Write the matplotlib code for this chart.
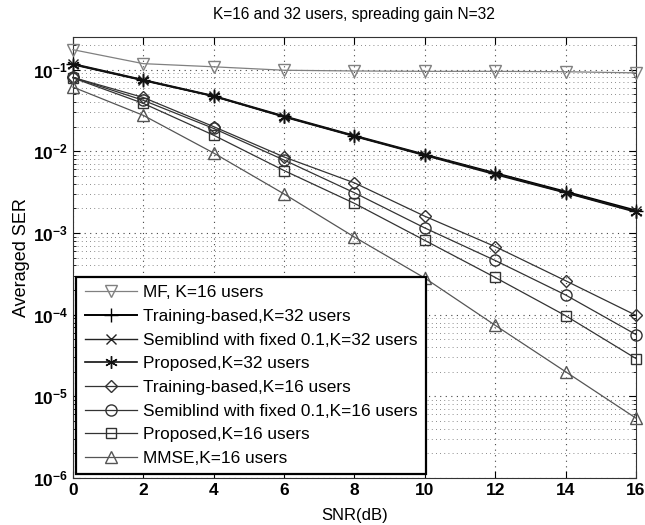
import matplotlib
matplotlib.use("Agg")
import matplotlib.pyplot as plt
from matplotlib.ticker import LogLocator, FixedLocator, NullFormatter

snr = [0, 2, 4, 6, 8, 10, 12, 14, 16]

mf_k16 = [0.175, 0.118, 0.108, 0.098, 0.096, 0.095, 0.095, 0.094, 0.091]
train_k32 = [0.117, 0.0745, 0.0475, 0.0268, 0.0155, 0.0091, 0.0054, 0.0032, 0.00188]
semi_k32 = [0.116, 0.0740, 0.0472, 0.0265, 0.0153, 0.0090, 0.0053, 0.00312, 0.00183]
prop_k32 = [0.115, 0.0735, 0.0470, 0.0263, 0.0152, 0.0089, 0.0052, 0.0031, 0.0018]
train_k16 = [0.080, 0.0455, 0.0200, 0.0085, 0.0041, 0.0016, 0.00068, 0.00026, 0.000098]
semi_k16 = [0.080, 0.0420, 0.0190, 0.0078, 0.0031, 0.00115, 0.00046, 0.000174, 0.000057]
prop_k16 = [0.079, 0.0385, 0.0157, 0.0058, 0.0023, 0.00081, 0.000285, 0.000097, 0.000029]
mmse_k16 = [0.061, 0.0275, 0.0095, 0.0030, 0.00089, 0.00028, 0.000074, 0.000020, 0.0000054]

labels = ["MF, K=16 users", "Training-based,K=32 users",
          "Semiblind with fixed 0.1,K=32 users", "Proposed,K=32 users",
          "Training-based,K=16 users", "Semiblind with fixed 0.1,K=16 users",
          "Proposed,K=16 users", "MMSE,K=16 users"]

title = "K=16 and 32 users, spreading gain N=32"
xlabel = "SNR(dB)"
ylabel = "Averaged SER"

plt.rcParams['font.family'] = ['Liberation Sans', 'DejaVu Sans']

fig = plt.figure(figsize=(6.45, 5.25), dpi=100)
ax = fig.add_axes([0.113, 0.0895, 0.873, 0.84])

series = [mf_k16, train_k32, semi_k32, prop_k32, train_k16, semi_k16, prop_k16, mmse_k16]
markers = ['v', '+', 'x', (6, 2, 0), 'D', 'o', 's', '^']
colors = ['#808080', '#000000', '#222222', '#111111', '#333333', '#333333', '#333333', '#555555']
lws = [0.9, 1.4, 1.0, 1.2, 0.9, 0.9, 0.9, 0.9]
msizes = [8, 10, 7, 9, 6.5, 8, 6.5, 8]

for ys, m, c, lw, ms, lab in zip(series, markers, colors, lws, msizes, labels):
    ax.semilogy(snr, ys, marker=m, color=c, lw=lw, ms=ms, mfc='none',
                mec=c, mew=1.0, label=lab, clip_on=False, zorder=3)

ax.set_xlim(0, 16)
ax.set_ylim(1e-6, 0.25)
ax.xaxis.set_major_locator(FixedLocator(snr))
ax.yaxis.set_major_locator(LogLocator(base=10, numticks=10))
ax.yaxis.set_minor_locator(LogLocator(base=10, subs=range(2, 10), numticks=20))
ax.yaxis.set_minor_formatter(NullFormatter())

ax.grid(True, which='major', axis='both', linestyle=(0, (1, 4)), color='#444444', lw=0.8)
ax.grid(True, which='minor', axis='y', linestyle=(0, (1, 4)), color='#666666', lw=0.6)

ax.tick_params(which='both', direction='in', top=True, right=True)
ax.tick_params(which='major', length=5, labelsize=12.5)
ax.tick_params(which='minor', length=2.5)
for t in ax.get_xticklabels() + ax.get_yticklabels():
    t.set_fontweight('bold')
for s in ax.spines.values():
    s.set_linewidth(0.8)
    s.set_color('#333333')

ax.set_title(title, fontsize=11.2, pad=13)
ax.set_xlabel(xlabel, fontsize=12, labelpad=7)
ax.set_ylabel(ylabel, fontsize=13, labelpad=2)

leg = ax.legend(loc='lower left', bbox_to_anchor=(0.006, 0.008), fontsize=12.4,
                handlelength=3.0, handletextpad=0.35, labelspacing=0.5,
                borderpad=0.5, borderaxespad=0.0, fancybox=False, framealpha=1,
                edgecolor='black')
leg.get_frame().set_linewidth(1.6)
leg.set_zorder(5)

fig.savefig("out.png", dpi=100)
